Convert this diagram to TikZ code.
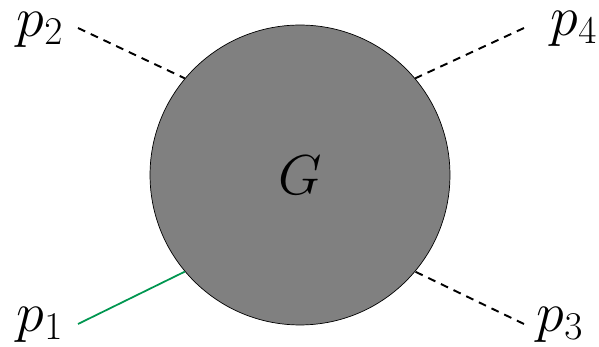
\RequirePackage{fix-cm}
\documentclass[tikz,border=0pt]{standalone}
\definecolor{legGreen}{RGB}{0,150,80}

\newcommand*{\xmax}{599}
\newcommand*{\ymax}{347}

\begin{document}
\begin{tikzpicture}[x=0.02cm,y=-0.02cm,
	leg/.style={line width=1.1pt,dash pattern=on 4.5pt off 3.5pt},
	mom/.style={font=\fontsize{32}{38}\selectfont,inner sep=0pt}]

	\useasboundingbox (0,0) rectangle (\xmax,\ymax);

	% blob
	\node[circle,draw,thin,fill=gray,minimum size=6cm,mom] (G) at (300,175) {$G$};

	% momenta
	\node[mom] (p2) at (40,29.5) {$p_2$};
	\node[mom] (p4) at (574,28.5) {$p_4$};
	\node[mom] (p1) at (40,324.5) {$p_1$};
	\node[mom] (p3) at (560,324.5) {$p_3$};

	% outer ends of the legs
	\coordinate (e2) at (78,28);
	\coordinate (e4) at (524,28);
	\coordinate (e1) at (78,324);
	\coordinate (e3) at (524,324);

	\draw[leg] (e2) -- (G.140);
	\draw[leg] (e4) -- (G.40);
	\draw[leg] (e3) -- (G.320);
	\draw[legGreen,line width=1pt] (e1) -- (G.220);

\end{tikzpicture}
\end{document}
